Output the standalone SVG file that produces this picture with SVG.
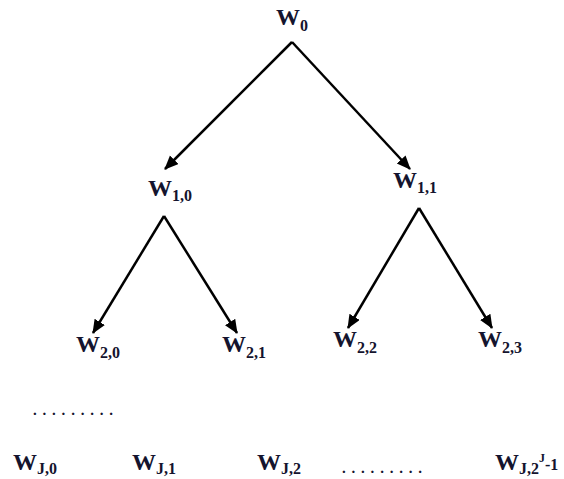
<svg xmlns="http://www.w3.org/2000/svg" width="564" height="479" viewBox="0 0 564 479">
<style>
.t{font-family:"Liberation Serif","Times New Roman",serif;font-weight:bold;font-size:24px;fill:#14142e}
.s{font-size:16px}
.c{stroke:#000;stroke-width:2.5;fill:none;marker-end:url(#ah)}
.d{font-family:"Liberation Serif",serif;font-weight:bold;font-size:15px;fill:#14142e}
</style>
<defs>
<marker id="ah" markerUnits="userSpaceOnUse" markerWidth="16" markerHeight="14" viewBox="0 0 16 14" refX="13" refY="6" orient="auto">
<path d="M0,0 L14,6 L0,12 z" fill="#000"/>
</marker>
</defs>
<g id="connectors">
<path class="c" d="M292,42 L165,169"/>
<path class="c" d="M292,42 L410,169"/>
<path class="c" d="M164,216 L93,333"/>
<path class="c" d="M164,216 L237,333"/>
<path class="c" d="M419,208 L348,328"/>
<path class="c" d="M419,208 L492,328"/>
</g>
<g id="w0"><text class="t" x="276" y="25">W<tspan class="s" dy="6">0</tspan></text></g>
<g id="w10"><text class="t" x="148" y="196">W<tspan class="s" dy="5">1,0</tspan></text></g>
<g id="w11"><text class="t" x="393" y="188">W<tspan class="s" dy="5">1,1</tspan></text></g>
<g id="w20"><text class="t" x="76" y="352">W<tspan class="s" dy="6">2,0</tspan></text></g>
<g id="w21"><text class="t" x="222" y="352">W<tspan class="s" dy="6">2,1</tspan></text></g>
<g id="w22"><text class="t" x="333" y="347">W<tspan class="s" dy="6">2,2</tspan></text></g>
<g id="w23"><text class="t" x="478" y="347">W<tspan class="s" dy="6">2,3</tspan></text></g>
<g id="dots1"><text class="d" x="33" y="415" textLength="80" lengthAdjust="spacing">.........</text></g>
<g id="wj0"><text class="t" x="13" y="470">W<tspan class="s" dy="4">J,0</tspan></text></g>
<g id="wj1"><text class="t" x="132" y="470">W<tspan class="s" dy="4">J,1</tspan></text></g>
<g id="wj2"><text class="t" x="257" y="470">W<tspan class="s" dy="4">J,2</tspan></text></g>
<g id="dots2"><text class="d" x="342" y="473" textLength="80" lengthAdjust="spacing">.........</text></g>
<g id="wjn"><text class="t" x="495" y="470">W<tspan class="s" dy="4">J,2</tspan><tspan font-size="12" dy="-12">J</tspan><tspan class="s" dy="8">-1</tspan></text></g>
</svg>
